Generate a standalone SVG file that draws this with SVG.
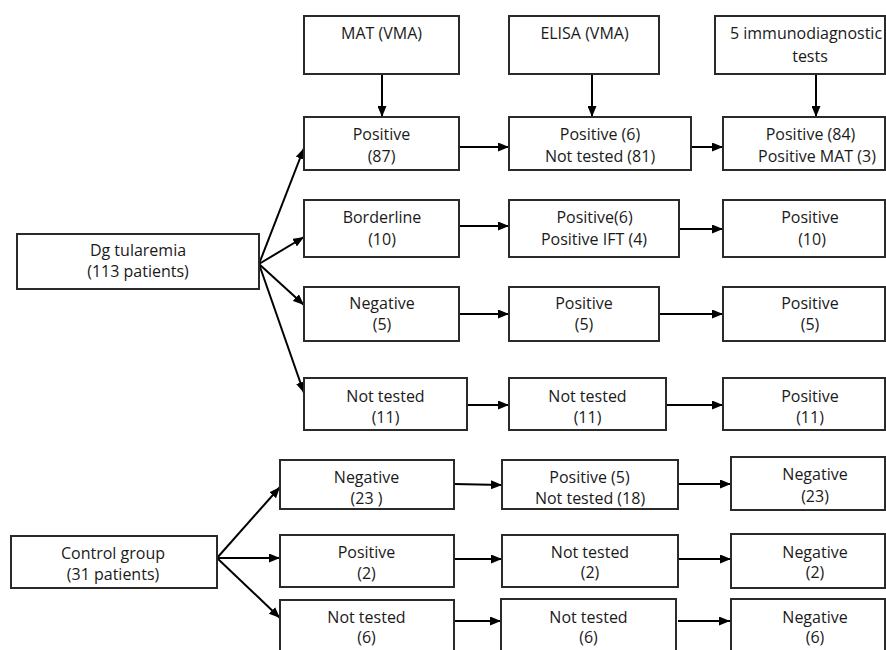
<svg xmlns="http://www.w3.org/2000/svg" width="886" height="650" viewBox="0 0 886 650">
<style>
.box{fill:#fff;stroke:#2a2a2a;stroke-width:2}
.t{font-family:"Open Sans","Noto Sans","Liberation Sans",sans-serif;font-size:16px;fill:#1a1a1a;text-anchor:middle}
.c line{stroke:#000;stroke-width:2;marker-end:url(#ah)}
</style>
<defs>
<marker id="ah" markerUnits="userSpaceOnUse" markerWidth="11" markerHeight="9" refX="11" refY="4.5" orient="auto">
<path d="M0,0 L11,4.5 L0,9 z" fill="#000"/>
</marker>
</defs>
<rect width="886" height="650" fill="#fff"/>
<g id="connectors" class="c">
<line x1="382" y1="74" x2="382" y2="117"/>
<line x1="592" y1="74" x2="592" y2="117"/>
<line x1="816" y1="74" x2="816" y2="117"/>
<line x1="259" y1="264" x2="304" y2="148"/>
<line x1="259" y1="264" x2="304" y2="237"/>
<line x1="259" y1="264" x2="304" y2="305"/>
<line x1="259" y1="264" x2="304" y2="393"/>
<line x1="459" y1="147" x2="509" y2="147"/>
<line x1="691" y1="147" x2="723" y2="147"/>
<line x1="459" y1="226" x2="509" y2="226"/>
<line x1="679" y1="229" x2="723" y2="229"/>
<line x1="459" y1="314" x2="509" y2="314"/>
<line x1="659" y1="314" x2="723" y2="314"/>
<line x1="467" y1="405" x2="509" y2="405"/>
<line x1="666" y1="405" x2="723" y2="405"/>
<line x1="217" y1="558" x2="280" y2="487"/>
<line x1="217" y1="558" x2="280" y2="558"/>
<line x1="217" y1="558" x2="280" y2="618"/>
<line x1="454" y1="484" x2="502" y2="485"/>
<line x1="678" y1="484" x2="731" y2="484"/>
<line x1="454" y1="559" x2="502" y2="559"/>
<line x1="678" y1="559" x2="731" y2="559"/>
<line x1="454" y1="621" x2="501" y2="621"/>
<line x1="678" y1="621" x2="730" y2="621"/>
</g>
<g id="mat-header"><rect class="box" x="304" y="16" width="155" height="58"/><text class="t" x="381.5" y="39">MAT (VMA)</text></g>
<g id="elisa-header"><rect class="box" x="509" y="16" width="150" height="58"/><text class="t" x="584.5" y="39">ELISA (VMA)</text></g>
<g id="immuno-header"><rect class="box" x="715" y="16" width="170" height="58"/><text class="t" x="806" y="39">5 immunodiagnostic</text><text class="t" x="810" y="62">tests</text></g>

<g id="dg"><rect class="box" x="17" y="234" width="242" height="55"/><text class="t" x="138" y="256">Dg tularemia</text><text class="t" x="138" y="277">(113 patients)</text></g>

<g id="r1-mat"><rect class="box" x="304" y="117" width="155" height="53"/><text class="t" x="381.5" y="140">Positive</text><text class="t" x="381.5" y="162">(87)</text></g>
<g id="r1-elisa"><rect class="box" x="509" y="117" width="182" height="53"/><text class="t" x="600" y="140">Positive (6)</text><text class="t" x="600" y="162">Not tested (81)</text></g>
<g id="r1-immuno"><rect class="box" x="723" y="117" width="162" height="53"/><text class="t" x="810.5" y="140">Positive (84)</text><text class="t" x="817" y="162">Positive MAT (3)</text></g>

<g id="r2-mat"><rect class="box" x="304" y="200" width="155" height="57"/><text class="t" x="382" y="223">Borderline</text><text class="t" x="382" y="245">(10)</text></g>
<g id="r2-elisa"><rect class="box" x="509" y="200" width="170" height="57"/><text class="t" x="594.5" y="223">Positive(6)</text><text class="t" x="594" y="245">Positive IFT (4)</text></g>
<g id="r2-immuno"><rect class="box" x="723" y="200" width="162" height="57"/><text class="t" x="810" y="223">Positive</text><text class="t" x="812" y="245">(10)</text></g>

<g id="r3-mat"><rect class="box" x="304" y="287" width="155" height="54"/><text class="t" x="382" y="309">Negative</text><text class="t" x="382" y="330">(5)</text></g>
<g id="r3-elisa"><rect class="box" x="509" y="287" width="150" height="54"/><text class="t" x="584" y="309">Positive</text><text class="t" x="584" y="330">(5)</text></g>
<g id="r3-immuno"><rect class="box" x="723" y="287" width="162" height="54"/><text class="t" x="810" y="309">Positive</text><text class="t" x="810" y="330">(5)</text></g>

<g id="r4-mat"><rect class="box" x="304" y="378" width="163" height="52"/><text class="t" x="385.5" y="402">Not tested</text><text class="t" x="385.5" y="423">(11)</text></g>
<g id="r4-elisa"><rect class="box" x="509" y="378" width="157" height="52"/><text class="t" x="587.5" y="402">Not tested</text><text class="t" x="587.5" y="423">(11)</text></g>
<g id="r4-immuno"><rect class="box" x="723" y="378" width="162" height="52"/><text class="t" x="810" y="402">Positive</text><text class="t" x="810" y="423">(11)</text></g>

<g id="control"><rect class="box" x="11" y="536" width="206" height="52"/><text class="t" x="113" y="559">Control group</text><text class="t" x="113" y="580">(31 patients)</text></g>

<g id="c1-mat"><rect class="box" x="280" y="460" width="174" height="49"/><text class="t" x="366.5" y="483">Negative</text><text class="t" x="366.5" y="504">(23 )</text></g>
<g id="c1-elisa"><rect class="box" x="502" y="460" width="176" height="49"/><text class="t" x="589.5" y="483">Positive (5)</text><text class="t" x="590" y="504">Not tested (18)</text></g>
<g id="c1-immuno"><rect class="box" x="731" y="457" width="154" height="53"/><text class="t" x="815" y="480">Negative</text><text class="t" x="815" y="502">(23)</text></g>

<g id="c2-mat"><rect class="box" x="280" y="535" width="174" height="52"/><text class="t" x="366.5" y="558">Positive</text><text class="t" x="366.5" y="579">(2)</text></g>
<g id="c2-elisa"><rect class="box" x="502" y="535" width="176" height="52"/><text class="t" x="590" y="558">Not tested</text><text class="t" x="590" y="578">(2)</text></g>
<g id="c2-immuno"><rect class="box" x="731" y="534" width="154" height="54"/><text class="t" x="815" y="558">Negative</text><text class="t" x="815" y="578">(2)</text></g>

<g id="c3-mat"><rect class="box" x="280" y="600" width="174" height="60"/><text class="t" x="366.5" y="623">Not tested</text><text class="t" x="366.5" y="643">(6)</text></g>
<g id="c3-elisa"><rect class="box" x="501" y="599" width="175" height="61"/><text class="t" x="588.5" y="623">Not tested</text><text class="t" x="588.5" y="643">(6)</text></g>
<g id="c3-immuno"><rect class="box" x="731" y="599" width="154" height="61"/><text class="t" x="815" y="623">Negative</text><text class="t" x="815" y="643">(6)</text></g>
</svg>
